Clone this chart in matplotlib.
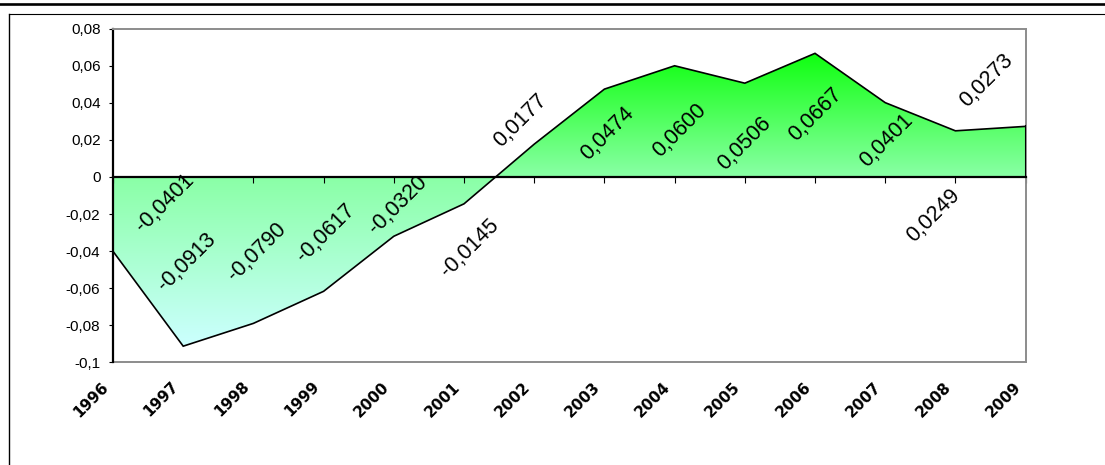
import matplotlib as mpl
import matplotlib.pyplot as plt
from matplotlib.colors import LinearSegmentedColormap
from matplotlib.lines import Line2D
from matplotlib.ticker import FuncFormatter, MultipleLocator
import matplotlib.transforms as mtransforms
import numpy as np

mpl.rcParams["font.family"] = ["Liberation Sans", "DejaVu Sans"]

years = ["1996", "1997", "1998", "1999", "2000", "2001", "2002",
         "2003", "2004", "2005", "2006", "2007", "2008", "2009"]
values = [-0.0401, -0.0913, -0.0790, -0.0617, -0.0320, -0.0145, 0.0177,
          0.0474, 0.0600, 0.0506, 0.0667, 0.0401, 0.0249, 0.0273]
value_labels = ["-0,0401", "-0,0913", "-0,0790", "-0,0617", "-0,0320",
                "-0,0145", "0,0177", "0,0474", "0,0600", "0,0506",
                "0,0667", "0,0401", "0,0249", "0,0273"]

# hand-placed label offsets (pixels, relative to each point)
label_offsets = [(52, 48), (4, 84), (4, 71), (2, 58), (4, 31), (6, -44),
                 (-14, 24), (3, -44), (5, -65), (0, -60), (0, -61),
                 (1, -38), (-22, -85), (-39, 46)]

YMIN, YMAX = -0.1, 0.08


def comma_fmt(v, pos):
    v = round(v, 4)
    if abs(v) < 1e-9:
        return "0"
    return "{:g}".format(v).replace(".", ",")


fig = plt.figure(figsize=(11.05, 4.65), dpi=100)
ax = fig.add_axes([113 / 1105, 1 - 362.3 / 465,
                   (1025.6 - 113) / 1105, (362.3 - 28.7) / 465])

x = np.arange(len(years))
y = np.array(values)

# area between the series and zero, filled with a vertical gradient
vmin, vmax = y.min(), y.max()
zpos = (0 - vmin) / (vmax - vmin)
cmap = LinearSegmentedColormap.from_list(
    "area", [(0.0, "#ccffff"), (zpos, "#8affa6"), (1.0, "#10ff10")])
poly = ax.fill_between(x, y, 0, facecolor="none", edgecolor="none")
grad = np.linspace(vmin, vmax, 256).reshape(-1, 1)
img = ax.imshow(grad, cmap=cmap, vmin=vmin, vmax=vmax, origin="lower",
                extent=(x[0], x[-1], vmin, vmax), aspect="auto",
                interpolation="bilinear", zorder=1)
clip = poly.get_paths()[0]
img.set_clip_path(clip, transform=ax.transData)

ax.plot(x, y, color="k", lw=1.2, zorder=3, solid_joinstyle="miter")
ax.plot([x[-1], x[-1]], [0, y[-1]], color="k", lw=1.5, zorder=3)

for xi, yi, txt, (dx, dy) in zip(x, y, value_labels, label_offsets):
    ax.annotate(txt, (xi, yi), xytext=(dx, dy), textcoords="offset pixels",
                ha="center", va="center", rotation=45, fontsize=15.5,
                zorder=4)

ax.set_xlim(x[0], x[-1])
ax.set_ylim(YMIN, YMAX)

# zero line carries the category ticks
ax.spines["bottom"].set_position(("data", 0))
ax.spines["bottom"].set_color("k")
ax.spines["bottom"].set_linewidth(1.6)
ax.spines["bottom"].set_zorder(5)
ax.spines["left"].set_color("k")
ax.spines["left"].set_linewidth(1.6)
for side in ["top", "right"]:
    ax.spines[side].set_color("#8c8c8c")
    ax.spines[side].set_linewidth(1.4)

ax.set_xticks(x)
ax.tick_params(axis="x", direction="out", length=4, width=0.8,
               labelbottom=False)
ax.yaxis.set_major_locator(MultipleLocator(0.02))
ax.yaxis.set_major_formatter(FuncFormatter(comma_fmt))
ax.tick_params(axis="y", direction="out", length=3, width=0.8, pad=6,
               labelsize=11)

# year labels sit along the bottom edge of the plot frame
sec = ax.secondary_xaxis("bottom")
sec.spines["bottom"].set_color("#8c8c8c")
sec.spines["bottom"].set_linewidth(1.4)
sec.set_xticks(x, years)
sec.tick_params(axis="x", length=0, pad=12)
shift = mtransforms.ScaledTranslation(-12 / 100, 0, fig.dpi_scale_trans)
for lab in sec.get_xticklabels():
    lab.set_rotation(45)
    lab.set_ha("right")
    lab.set_va("top")
    lab.set_rotation_mode("anchor")
    lab.set_fontfamily("DejaVu Sans")
    lab.set_fontweight("bold")
    lab.set_fontsize(11)
    lab.set_transform(lab.get_transform() + shift)

# page rules around the chart
fig.add_artist(Line2D([0, 1], [1 - 4.5 / 465] * 2, color="k", lw=1.9,
                      transform=fig.transFigure))
fig.add_artist(Line2D([9.3 / 1105, 1], [1 - 14.3 / 465] * 2, color="k",
                      lw=0.8, transform=fig.transFigure))
fig.add_artist(Line2D([9.3 / 1105] * 2, [0, 1 - 14.3 / 465], color="k",
                      lw=1.0, transform=fig.transFigure))

fig.savefig("out.png", dpi=100)
